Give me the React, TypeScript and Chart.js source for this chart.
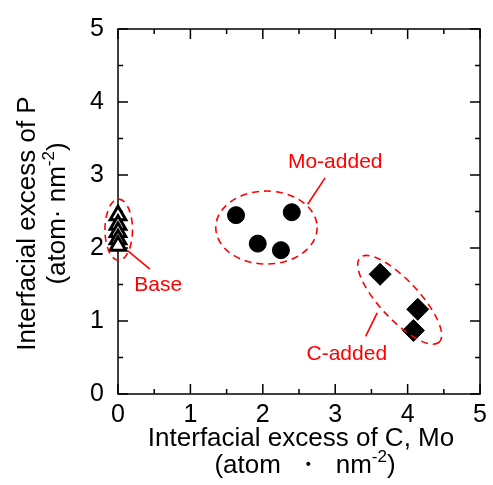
import { useEffect, useRef } from "react";
import { Chart, registerables } from "chart.js";

Chart.register(...registerables);

// ---- data ----
const baseX = [0, 0, 0, 0, 0];
const baseY = [2.45, 2.32, 2.22, 2.12, 2.03];
const moX = [1.63, 2.4, 1.93, 2.25];
const moY = [2.45, 2.49, 2.06, 1.97];
const cX = [3.62, 4.14, 4.08];
const cY = [1.64, 1.16, 0.87];

const xTickLabels = ["0", "1", "2", "3", "4", "5"];
const yTickLabels = ["0", "1", "2", "3", "4", "5"];

// ---- annotations (data units) ----
const groupNames = ["Base", "Mo-added", "C-added"];
const ellipseCx = [0.01, 2.05, 3.89];
const ellipseCy = [2.25, 2.28, 1.29];
const ellipseRx = [0.19, 0.7, 0.8];
const ellipseRy = [0.42, 0.5, 0.27];
const ellipseRotDeg = [0, 0, 47];
const labelX = [0.555, 3.0, 3.16];
const labelY = [1.49, 3.18, 0.55];
const leaderX1 = [0.137, 2.62, 3.58];
const leaderY1 = [1.96, 2.6, 1.11];
const leaderX2 = [0.44, 2.86, 3.42];
const leaderY2 = [1.71, 2.96, 0.79];

const FONT = "'Liberation Sans', Arial, Helvetica, sans-serif";
const RED = "#ff0000";

type Seg = { t: string; sup?: boolean };

function drawRich(
  ctx: CanvasRenderingContext2D,
  segs: Seg[],
  cx: number,
  cy: number,
  size: number,
  rotate: boolean
) {
  const supSize = Math.round(size * 0.65);
  const widths = segs.map((s) => {
    ctx.font = `${s.sup ? supSize : size}px ${FONT}`;
    return ctx.measureText(s.t).width;
  });
  const total = widths.reduce((a, b) => a + b, 0);
  ctx.save();
  ctx.translate(cx, cy);
  if (rotate) ctx.rotate(-Math.PI / 2);
  ctx.fillStyle = "#000";
  ctx.textBaseline = "middle";
  ctx.textAlign = "left";
  let x = -total / 2;
  segs.forEach((s, i) => {
    ctx.font = `${s.sup ? supSize : size}px ${FONT}`;
    ctx.fillText(s.t, x, s.sup ? -size * 0.35 : 0);
    x += widths[i];
  });
  ctx.restore();
}

const framePlugin = {
  id: "frameTicks",
  beforeDatasetsDraw(chart: any) {
    const { ctx, chartArea: a, scales } = chart;
    const xs = scales.x;
    const ys = scales.y;
    ctx.save();
    ctx.strokeStyle = "#000";
    ctx.lineWidth = 1.5;
    ctx.strokeRect(a.left, a.top, a.right - a.left, a.bottom - a.top);
    for (let i = 0; i <= 10; i++) {
      const v = i * 0.5;
      const len = i % 2 === 0 ? 10 : 5;
      const px = xs.getPixelForValue(v);
      const py = ys.getPixelForValue(v);
      ctx.beginPath();
      ctx.moveTo(px, a.bottom);
      ctx.lineTo(px, a.bottom - len);
      ctx.moveTo(px, a.top);
      ctx.lineTo(px, a.top + len);
      ctx.moveTo(a.left, py);
      ctx.lineTo(a.left + len, py);
      ctx.moveTo(a.right, py);
      ctx.lineTo(a.right - len, py);
      ctx.stroke();
    }
    ctx.restore();
  },
  afterDatasetsDraw(chart: any) {
    const { ctx, chartArea: a, scales } = chart;
    const xs = scales.x;
    const ys = scales.y;
    const ux = Math.abs(xs.getPixelForValue(1) - xs.getPixelForValue(0));
    const uy = Math.abs(ys.getPixelForValue(1) - ys.getPixelForValue(0));
    ctx.save();
    ctx.strokeStyle = RED;
    ctx.lineWidth = 1.6;
    ctx.setLineDash([7, 5]);
    for (let i = 0; i < groupNames.length; i++) {
      const cx = xs.getPixelForValue(ellipseCx[i]);
      const cy = ys.getPixelForValue(ellipseCy[i]);
      const rot = (ellipseRotDeg[i] * Math.PI) / 180;
      const rx = ellipseRx[i] * ux;
      const ry = rot === 0 ? ellipseRy[i] * uy : ellipseRy[i] * ux;
      ctx.beginPath();
      ctx.ellipse(cx, cy, rx, ry, rot, 0, Math.PI * 2);
      ctx.stroke();
    }
    ctx.setLineDash([]);
    for (let i = 0; i < groupNames.length; i++) {
      ctx.beginPath();
      ctx.moveTo(xs.getPixelForValue(leaderX1[i]), ys.getPixelForValue(leaderY1[i]));
      ctx.lineTo(xs.getPixelForValue(leaderX2[i]), ys.getPixelForValue(leaderY2[i]));
      ctx.stroke();
    }
    ctx.fillStyle = RED;
    ctx.font = `21px ${FONT}`;
    ctx.textAlign = "center";
    ctx.textBaseline = "middle";
    for (let i = 0; i < groupNames.length; i++) {
      ctx.fillText(groupNames[i], xs.getPixelForValue(labelX[i]), ys.getPixelForValue(labelY[i]));
    }
    ctx.restore();

    // axis titles
    const midX = (a.left + a.right) / 2;
    const midY = (a.top + a.bottom) / 2;
    drawRich(ctx, [{ t: "Interfacial excess of C, Mo" }], midX + 2, a.bottom + 45, 26, false);
    drawRich(
      ctx,
      [{ t: "(atom  \u30FB  nm" }, { t: "-2", sup: true }, { t: ")" }],
      midX + 6,
      a.bottom + 72,
      26,
      false
    );
    drawRich(ctx, [{ t: "Interfacial excess of P" }], a.left - 90, midY + 12, 26, true);
    drawRich(
      ctx,
      [{ t: "(atom\u00B7 nm" }, { t: "-2", sup: true }, { t: ")" }],
      a.left - 60,
      midY + 2,
      26,
      true
    );
  },
};

export default function App() {
  const ref = useRef<HTMLCanvasElement>(null);
  useEffect(() => {
    if (!ref.current) return;
    const chart = new Chart(ref.current, {
      type: "scatter",
      data: {
        datasets: [
          {
            label: groupNames[0],
            data: baseX.map((x, i) => ({ x, y: baseY[i] })),
            pointStyle: "triangle",
            pointRadius: 9,
            pointHoverRadius: 9,
            backgroundColor: "#ffffff",
            borderColor: "#000000",
            borderWidth: 3,
            clip: false,
          },
          {
            label: groupNames[1],
            data: moX.map((x, i) => ({ x, y: moY[i] })),
            pointStyle: "circle",
            pointRadius: 8.5,
            pointHoverRadius: 8.5,
            backgroundColor: "#000000",
            borderColor: "#000000",
            borderWidth: 1,
            clip: false,
          },
          {
            label: groupNames[2],
            data: cX.map((x, i) => ({ x, y: cY[i] })),
            pointStyle: "rectRot",
            pointRadius: 11,
            pointHoverRadius: 11,
            backgroundColor: "#000000",
            borderColor: "#000000",
            borderWidth: 1,
            clip: false,
          },
        ] as any,
      },
      options: {
        animation: false,
        responsive: false,
        devicePixelRatio: 1,
        layout: { padding: { top: 28, right: 8, left: 0, bottom: 0 } },
        plugins: { legend: { display: false }, tooltip: { enabled: false } },
        scales: {
          x: {
            type: "linear",
            min: 0,
            max: 5,
            grid: { display: false, drawTicks: false },
            border: { display: false },
            ticks: {
              stepSize: 1,
              padding: 6,
              color: "#000",
              font: { size: 25, family: FONT },
              callback: (v: any) => xTickLabels[Math.round(Number(v))] ?? "",
            },
            afterFit: (s: any) => {
              s.height = 91;
            },
          },
          y: {
            type: "linear",
            min: 0,
            max: 5,
            grid: { display: false, drawTicks: false },
            border: { display: false },
            ticks: {
              stepSize: 1,
              padding: 14,
              color: "#000",
              font: { size: 25, family: FONT },
              callback: (v: any) => yTickLabels[Math.round(Number(v))] ?? "",
            },
            afterFit: (s: any) => {
              s.width = 118;
            },
          },
        },
      },
      plugins: [framePlugin],
    });
    return () => chart.destroy();
  }, []);
  return (
    <div style={{ position: "fixed", left: 0, top: 0, width: 493, height: 485, background: "#fff" }}>
      <canvas ref={ref} width={493} height={485} style={{ width: 493, height: 485, display: "block" }} />
    </div>
  );
}
